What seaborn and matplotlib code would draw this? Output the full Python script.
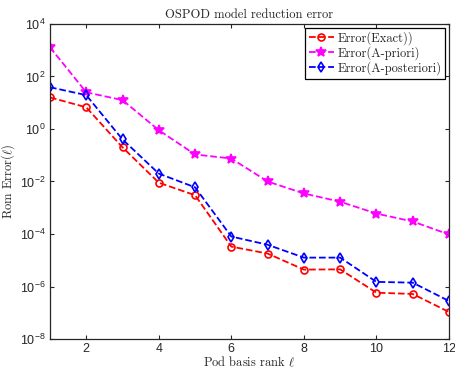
import matplotlib
matplotlib.use("Agg")
import matplotlib.pyplot as plt
from matplotlib.ticker import NullLocator
import seaborn as sns
import pandas as pd

# Pod basis rank
rank = [1, 2, 3, 4, 5, 6, 7, 8, 9, 10, 11, 12]

# ROM errors
err_exact = [16, 6.7, 0.2, 0.009, 0.003, 3.3e-5, 1.8e-5, 4.4e-6, 4.5e-6, 5.8e-7, 5.2e-7, 1.07e-7]
err_apriori = [1300, 25, 12.6, 0.9, 0.107, 0.075, 0.01, 0.0035, 0.0017, 6e-4, 3e-4, 9.6e-5]
err_aposteriori = [39, 19.5, 0.4, 0.02, 0.006, 8e-5, 3.9e-5, 1.26e-5, 1.26e-5, 1.5e-6, 1.4e-6, 2.8e-7]

labels = ["Error(Exact))", "Error(A-priori)", "Error(A-posteriori)"]
ytick_vals = [1e-8, 1e-6, 1e-4, 1e-2, 1e0, 1e2, 1e4]
xtick_vals = [2, 4, 6, 8, 10, 12]

sns.set_style("ticks")
plt.rcParams['font.family'] = ['Liberation Sans', 'DejaVu Sans']
plt.rcParams['mathtext.fontset'] = 'cm'

df = pd.DataFrame({"rank": rank, "exact": err_exact,
                   "apriori": err_apriori, "aposteriori": err_aposteriori})

fig = plt.figure(figsize=(4.56, 3.68), dpi=100)
ax = fig.add_axes([0.1096, 0.0788, 0.875, 0.856])

styles = [("exact", "#ff0000", "o", True),
          ("apriori", "#ff00ff", "*", False),
          ("aposteriori", "#0000ff", "d", True)]
for (col, color, mk, hollow), lab in zip(styles, labels):
    sns.lineplot(data=df, x="rank", y=col, ax=ax, color=color, linestyle="--",
                 linewidth=1.3, marker=mk, markersize=7 if mk == "*" else 5,
                 markeredgecolor=color, markeredgewidth=1.2,
                 markerfacecolor="none" if hollow else color, label=lab)

ax.set_yscale("log")
ax.set_ylim(1e-8, 1e4)
ax.set_xlim(1, 12)
ax.set_yticks(ytick_vals)
ax.yaxis.set_minor_locator(NullLocator())
ax.set_xticks(xtick_vals)
ax.tick_params(direction="in", top=True, right=True, labelsize=9, length=3,
               width=0.8, pad=3)
for s in ax.spines.values():
    s.set_linewidth(0.9)

serif = "cmr10"
ax.set_title("OSPOD model reduction error", fontsize=9, family=serif, pad=4)
ax.set_xlabel(r"Pod basis rank $\ell$", fontsize=9, family=serif, labelpad=0)
ax.set_ylabel(r"Rom Error($\ell$)", fontsize=9, family=serif, labelpad=2)

leg = ax.legend(loc="upper right", prop={"family": serif, "size": 9},
                fancybox=False, edgecolor="black", framealpha=1,
                handlelength=2.0, handletextpad=0.3, borderpad=0.3,
                labelspacing=0.1, borderaxespad=0.3)
leg.get_frame().set_linewidth(0.9)

fig.savefig("out.png", dpi=100)
